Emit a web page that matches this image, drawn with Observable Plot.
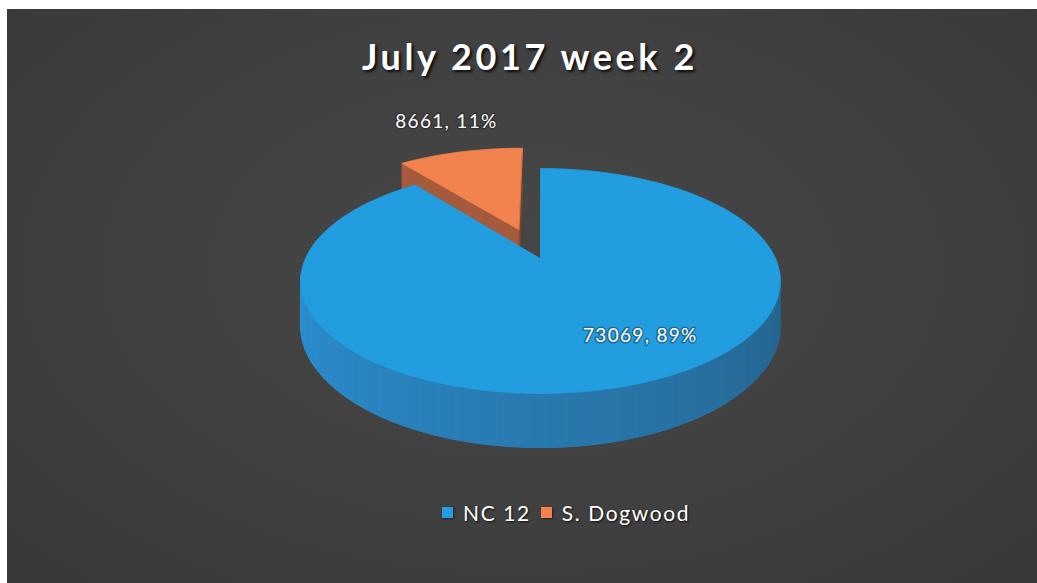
<!DOCTYPE html>
<html><head><meta charset="utf-8">
<script src="https://cdn.jsdelivr.net/npm/d3@7"></script>
<script src="https://cdn.jsdelivr.net/npm/@observablehq/plot@0.6"></script>
<style>
html,body{margin:0;padding:0;background:#fff;width:1037px;height:583px;overflow:hidden;}
#panel{position:absolute;left:7px;top:9px;width:1030px;height:574px;
  background:radial-gradient(ellipse at 50% 45%, #474747 0%, #404040 55%, #383838 100%);
  display:flex;flex-direction:column;font-family:Lato,"Open Sans",sans-serif;color:#fff;}
#title{position:relative;height:91px;flex:none;}
#title span{position:absolute;left:0;width:1046px;top:29px;text-align:center;font-size:36px;line-height:1;
  font-weight:700;letter-spacing:3.6px;text-shadow:2px 2px 3px rgba(0,0,0,0.85);}
#chart{height:390px;flex:none;}
#chart svg{display:block;overflow:visible;}
#legend{position:relative;height:84px;flex:none;}
#legend .row{position:absolute;left:435px;top:12px;display:flex;align-items:center;font-size:21px;line-height:1;
  letter-spacing:1.6px;text-shadow:1px 1px 2px rgba(0,0,0,0.8);}
#legend .sw{width:11px;height:11px;margin-right:10px;box-shadow:1px 1px 2px rgba(0,0,0,0.5);}
#legend .item{display:flex;align-items:center;margin-right:10px;}
</style>
</head><body>
<div id="panel">
  <div id="title"><span></span></div>
  <div id="chart"></div>
  <div id="legend"><div class="row"></div></div>
</div>
<script>
// ---- data ----
const chartTitle = "July 2017 week 2";
const categories = ["NC 12", "S. Dogwood"];
const values = [73069, 8661];
const topColors = ["#219de0", "#f2834f"];
const sideLight = ["#2c90d2", "#a65a3c"];
const sideDark = ["#25628b", "#74402d"];

// ---- layout constants ----
const W = 1030, H = 390;
const CX = 533, CY = 158, RX = 235, RY = 108;
const P = 0.2, HZ = 0.4;
const explode = [0, 0.3];
const labelPlace = [{r: 0.83, dA: -11.7}, {r: 1.03, dA: 2}];

const total = d3.sum(values);
const rad = a => a * Math.PI / 180;
const dir = a => [Math.sin(rad(a)), -Math.cos(rad(a))];
const pt = (u, v, z) => { const k = 1 / (1 - P * v); return [u * k, (v + z) * k]; };

let cum = 0;
const slices = values.map((v, i) => {
  const a0 = cum / total * 360; cum += v; const a1 = cum / total * 360;
  const mid = (a0 + a1) / 2;
  const [du, dv] = dir(mid);
  return {i, v, a0, a1, mid, ou: du * explode[i], ov: dv * explode[i]};
});

const faces = [];
let pid = 0;
function addPoly(fill, pts) { const id = pid++; pts.forEach(([x, y]) => faces.push({id, fill, x, y})); }
function sectorPts(s, z) {
  const pts = [pt(s.ou, s.ov, z)];
  const n = Math.ceil(s.a1 - s.a0);
  for (let j = 0; j <= n; j++) {
    const a = s.a0 + (s.a1 - s.a0) * j / n; const [du, dv] = dir(a);
    pts.push(pt(s.ou + du, s.ov + dv, z));
  }
  return pts;
}
function cutFace(s, a) {
  const [du, dv] = dir(a);
  return [pt(s.ou, s.ov, 0), pt(s.ou + du, s.ov + dv, 0), pt(s.ou + du, s.ov + dv, HZ), pt(s.ou, s.ov, HZ)];
}
function wall(s) {
  const lo = Math.max(s.a0, 98), hi = Math.min(s.a1, 262);
  if (hi <= lo) return;
  const n = Math.ceil((hi - lo) / 2);
  const interp = d3.interpolateRgb(sideDark[s.i], sideLight[s.i]);
  for (let j = 0; j < n; j++) {
    const a = lo + (hi - lo) * j / n, b = lo + (hi - lo) * (j + 1) / n;
    const [au, av] = dir(a), [bu, bv] = dir(b);
    const t = ((a + b) / 2 - 98) / 164;
    addPoly(interp(t), [pt(s.ou + au, s.ov + av, 0), pt(s.ou + bu, s.ov + bv, 0),
      pt(s.ou + bu, s.ov + bv, HZ), pt(s.ou + au, s.ov + av, HZ)]);
  }
}

// draw back (exploded) slice first, then main slice
const order = [1, 0];
for (const i of order) {
  const s = slices[i];
  addPoly(d3.interpolateRgb(sideDark[i], sideLight[i])(0.5), sectorPts(s, HZ));
  if (i === 1) {
    addPoly(sideDark[i], cutFace(s, s.a1));
    addPoly(sideLight[i], cutFace(s, s.a0));
  }
  wall(s);
  addPoly(topColors[i], sectorPts(s, 0));
}

// soft shadow
const shadow = [];
for (let j = 0; j <= 180; j++) {
  const [du, dv] = dir(j * 2);
  const [x, y] = pt(du * 1.0 + 0.05, dv * 1.0 + 0.03, HZ + 0.06);
  shadow.push({x, y});
}

const fmtPct = d3.format(".0%");
const labels = slices.map(s => {
  const lp = labelPlace[s.i];
  const [du, dv] = dir(s.mid + lp.dA);
  return {x: s.ou + du * lp.r, y: s.ov + dv * lp.r, text: `${s.v}, ${fmtPct(s.v / total)}`};
});

const chart = Plot.plot({
  width: W, height: H, margin: 0,
  x: {domain: [-1, 1], range: [CX - RX, CX + RX], axis: null},
  y: {domain: [-1, 1], range: [CY - RY, CY + RY], axis: null},
  color: {type: "identity"},
  style: {background: "transparent", overflow: "visible", letterSpacing: "1.3px"},
  marks: [
    Plot.line(shadow, {x: "x", y: "y", fill: "#080808", stroke: "none", fillOpacity: 0.7, curve: "linear-closed", ariaLabel: "shadow"}),
    Plot.line(faces, {x: "x", y: "y", z: "id", fill: "fill", stroke: "fill", strokeWidth: 0.8, curve: "linear-closed"}),
    Plot.text(labels, {x: "x", y: "y", text: "text", fill: "white", fontSize: 19, fontFamily: "Lato",
      stroke: "#1a1a1a", strokeOpacity: 0.4, strokeWidth: 3})
  ]
});
document.getElementById("chart").appendChild(chart);
const sg = chart.querySelector('g[aria-label="shadow"]');
if (sg) sg.style.filter = "blur(7px)";

document.querySelector("#title span").textContent = chartTitle;
const row = document.querySelector("#legend .row");
categories.forEach((c, i) => {
  const it = document.createElement("div"); it.className = "item";
  const sw = document.createElement("div"); sw.className = "sw"; sw.style.background = topColors[i];
  const tx = document.createElement("span"); tx.textContent = c;
  it.appendChild(sw); it.appendChild(tx); row.appendChild(it);
});
</script>
</body></html>
